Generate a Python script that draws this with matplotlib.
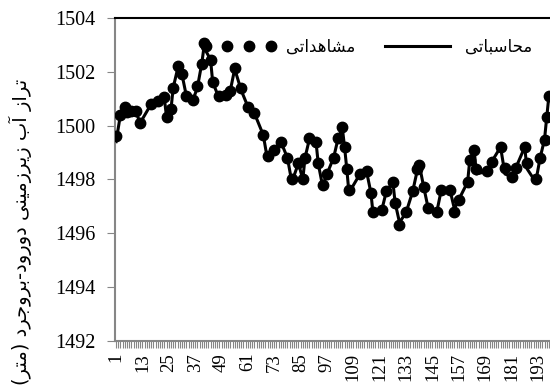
import matplotlib
matplotlib.use("Agg")
import matplotlib.pyplot as plt
from matplotlib.lines import Line2D

# time step (month index) and levels in metres
steps = [1, 3, 5, 6, 8, 10, 12, 17, 20, 23, 24, 26, 27, 29, 31, 33, 36, 38, 40, 41,
         44, 45, 48, 51, 53, 55, 58, 61, 64, 68, 70, 73, 76, 79, 81, 84, 86, 87, 89, 92,
         93, 95, 97, 100, 102, 104, 105, 106, 107, 112, 115, 117, 118, 122, 124, 127, 128, 130, 133, 136,
         138, 139, 141, 143, 147, 149, 153, 155, 157, 161, 162, 164, 165, 170, 172, 176, 178, 181, 183, 187,
         188, 192, 194, 196, 197, 198]
observed = [1499.6, 1500.4, 1500.7, 1500.5, 1500.55, 1500.55, 1500.1, 1500.8, 1500.9, 1501.05,
            1500.3, 1500.6, 1501.4, 1502.2, 1501.9, 1501.1, 1500.95, 1501.45, 1502.3, 1503.05,
            1502.45, 1501.6, 1501.1, 1501.15, 1501.3, 1502.15, 1501.4, 1500.7, 1500.45, 1499.65,
            1498.85, 1499.1, 1499.4, 1498.8, 1498.03, 1498.6, 1498.0, 1498.8, 1499.55, 1499.4,
            1498.6, 1497.8, 1498.2, 1498.8, 1499.55, 1499.96, 1499.2, 1498.4, 1497.6, 1498.2,
            1498.3, 1497.5, 1496.77, 1496.88, 1497.55, 1497.9, 1497.14, 1496.32, 1496.77, 1497.55,
            1498.37, 1498.55, 1497.73, 1496.95, 1496.8, 1497.6, 1497.6, 1496.8, 1497.25, 1497.9,
            1498.73, 1499.1, 1498.37, 1498.3, 1498.66, 1499.2, 1498.44, 1498.1, 1498.44, 1499.2,
            1498.6, 1498.0, 1498.8, 1499.48, 1500.3, 1501.1]
computed = [1499.4, 1500.4, 1500.8, 1500.5, 1500.6, 1500.5, 1500.1, 1500.8, 1500.9, 1501.0,
            1500.3, 1500.6, 1501.4, 1502.1, 1501.9, 1501.1, 1500.95, 1501.4, 1502.3, 1502.9,
            1502.45, 1501.6, 1501.0, 1501.15, 1501.3, 1502.1, 1501.3, 1500.7, 1500.45, 1499.65,
            1498.7, 1499.1, 1499.4, 1498.8, 1497.9, 1498.6, 1498.0, 1498.8, 1499.5, 1499.4,
            1498.6, 1497.75, 1498.2, 1498.8, 1499.5, 1499.9, 1499.2, 1498.4, 1497.5, 1498.2,
            1498.3, 1497.5, 1496.7, 1496.88, 1497.55, 1497.9, 1497.14, 1496.4, 1496.77, 1497.55,
            1498.3, 1498.55, 1497.73, 1496.95, 1496.8, 1497.6, 1497.6, 1496.9, 1497.25, 1497.9,
            1498.73, 1499.1, 1498.2, 1498.3, 1498.66, 1499.2, 1498.2, 1498.1, 1498.44, 1499.2,
            1498.4, 1497.9, 1498.8, 1499.48, 1500.3, 1501.1]

xticks = list(range(1, 194, 12))
yticks = [1492, 1494, 1496, 1498, 1500, 1502, 1504]

label_calc = "محاسباتی"
label_obs = "مشاهداتی"
label_y = "تراز آب زیرزمینی دورود-بروجرد (متر)"

# matplotlib does no arabic shaping, so pick presentation forms by hand
forms = {
    "ا": ("\uFE8D", "\uFE8E", None, None),
    "آ": ("\uFE81", "\uFE82", None, None),
    "د": ("\uFEA9", "\uFEAA", None, None),
    "ر": ("\uFEAD", "\uFEAE", None, None),
    "ز": ("\uFEAF", "\uFEB0", None, None),
    "و": ("\uFEED", "\uFEEE", None, None),
    "ب": ("\uFE8F", "\uFE90", "\uFE91", "\uFE92"),
    "ت": ("\uFE95", "\uFE96", "\uFE97", "\uFE98"),
    "ج": ("\uFE9D", "\uFE9E", "\uFE9F", "\uFEA0"),
    "ح": ("\uFEA1", "\uFEA2", "\uFEA3", "\uFEA4"),
    "س": ("\uFEB1", "\uFEB2", "\uFEB3", "\uFEB4"),
    "ش": ("\uFEB5", "\uFEB6", "\uFEB7", "\uFEB8"),
    "م": ("\uFEE1", "\uFEE2", "\uFEE3", "\uFEE4"),
    "ن": ("\uFEE5", "\uFEE6", "\uFEE7", "\uFEE8"),
    "ه": ("\uFEE9", "\uFEEA", "\uFEEB", "\uFEEC"),
    "ی": ("\uFEEF", "\uFEF0", "\uFEF3", "\uFEF4"),
}


def farsi(s):
    out = []
    for i, c in enumerate(s):
        if c not in forms:
            out.append(c)
            continue
        prev = s[i - 1] if i > 0 else ""
        nxt = s[i + 1] if i + 1 < len(s) else ""
        jp = prev in forms and forms[prev][2] is not None
        jn = forms[c][2] is not None and nxt in forms
        iso, fin, ini, med = forms[c]
        if jp and jn:
            out.append(med)
        elif jp:
            out.append(fin)
        elif jn:
            out.append(ini)
        else:
            out.append(iso)
    vis = "".join(reversed(out))
    return vis.replace("(", "\0").replace(")", "(").replace("\0", ")")


plt.rcParams["font.family"] = ["Liberation Serif", "DejaVu Sans"]

fig = plt.figure(figsize=(5.5, 3.87), dpi=100)
ax = fig.add_axes([0.209, 0.119, 0.791, 0.835])

ax.plot(steps, observed, "o", color="black", markersize=7.5, zorder=3)
ax.plot(steps, computed, "-", color="black", linewidth=2.2, zorder=2)

ax.set_xlim(0.5, 198.5)
ax.set_ylim(1492, 1504)
ax.set_yticks(yticks)
ax.set_xticks(xticks)
ax.set_xticks(range(1, 199), minor=True)
ax.tick_params(axis="y", labelsize=14.5, color="#868686", length=6, direction="out", pad=8)
ax.tick_params(axis="x", which="major", labelsize=13.5, color="#868686", length=5,
               direction="out", labelrotation=90)
ax.tick_params(axis="x", which="minor", color="#868686", length=5, direction="out", width=0.8)

for side in ["left", "bottom"]:
    ax.spines[side].set_color("#868686")
    ax.spines[side].set_linewidth(1.5)
ax.spines["top"].set_color("black")
ax.spines["top"].set_linewidth(1.5)
ax.spines["right"].set_visible(False)

fig.text(0.037, 0.40, farsi(label_y), family=["DejaVu Sans"], fontsize=14,
         rotation=90, ha="center", va="center")

handles = [
    Line2D([], [], linestyle="none", marker="o", color="black", markersize=7.5),
    Line2D([], [], color="black", linewidth=2.2),
]
ax.legend(handles, [farsi(label_obs), farsi(label_calc)], ncol=2, frameon=False,
          numpoints=4, handlelength=4.5, columnspacing=1.5, handletextpad=0.6,
          prop={"family": "DejaVu Sans", "size": 12},
          loc="center", bbox_to_anchor=(0.578, 0.91))

fig.savefig("out.png", dpi=100)
